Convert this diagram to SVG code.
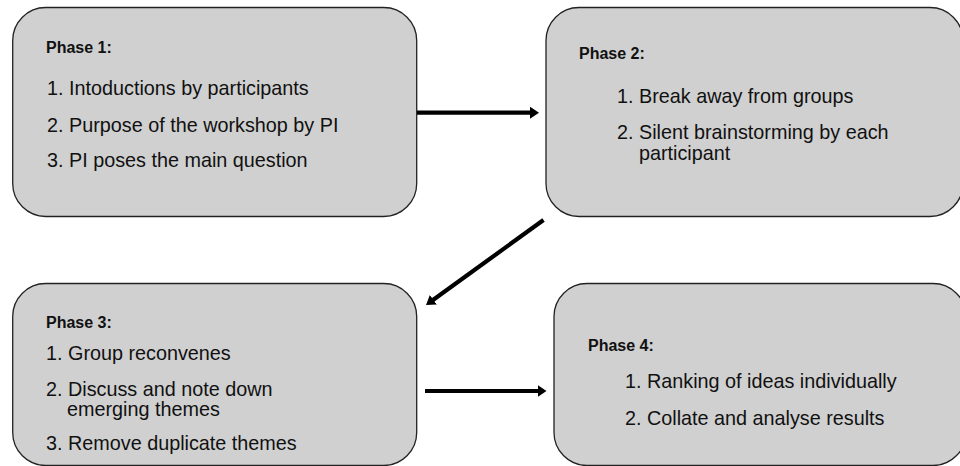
<svg xmlns="http://www.w3.org/2000/svg" width="960" height="466" viewBox="0 0 960 466">
<style>
.box{fill:#d0d0d0;stroke:#222;stroke-width:1.3}
.h{font-family:"Liberation Sans",Arial,sans-serif;font-weight:bold;font-size:16px;fill:#111}
.t{font-family:"Liberation Sans",Arial,sans-serif;font-size:19.8px;fill:#111}
.c{stroke:#000;stroke-width:4.2;fill:none}
</style>
<defs>
<marker id="ah" markerUnits="userSpaceOnUse" markerWidth="12" markerHeight="14" refX="3" refY="6" orient="auto">
<path d="M0,0 L9,6 L0,12 Z" fill="#000"/>
</marker>
</defs>
<rect x="0" y="0" width="960" height="466" fill="#fff"/>
<g id="phase1">
<rect class="box" x="12.7" y="7.5" width="404" height="209" rx="33" ry="33"/>
<text class="h" x="46" y="53">Phase 1:</text>
<text class="t" x="47" y="95">1. Intoductions by participants</text>
<text class="t" x="47" y="131.5">2. Purpose of the workshop by PI</text>
<text class="t" x="47" y="167">3. PI poses the main question</text>
</g>
<g id="phase2">
<rect class="box" x="546" y="7.5" width="417" height="209" rx="33" ry="33"/>
<text class="h" x="579" y="58.5">Phase 2:</text>
<text class="t" x="617" y="103">1. Break away from groups</text>
<text class="t" x="617" y="139">2. Silent brainstorming by each</text>
<text class="t" x="639" y="159.5">participant</text>
</g>
<g id="phase3">
<rect class="box" x="12.7" y="283.5" width="404" height="182" rx="33" ry="33"/>
<text class="h" x="46" y="327.5">Phase 3:</text>
<text class="t" x="46" y="360">1. Group reconvenes</text>
<text class="t" x="46" y="396">2. Discuss and note down</text>
<text class="t" x="67" y="416">emerging themes</text>
<text class="t" x="46" y="450">3. Remove duplicate themes</text>
</g>
<g id="phase4">
<rect class="box" x="554" y="283.5" width="412" height="182" rx="33" ry="33"/>
<text class="h" x="588" y="350.5">Phase 4:</text>
<text class="t" x="625" y="388">1. Ranking of ideas individually</text>
<text class="t" x="625" y="424.5">2. Collate and analyse results</text>
</g>
<g id="connectors">
<line class="c" x1="417" y1="112.7" x2="533" y2="112.7" marker-end="url(#ah)"/>
<line class="c" x1="543.5" y1="220" x2="430.9" y2="301.5" marker-end="url(#ah)"/>
<line class="c" x1="425" y1="391" x2="540.5" y2="391" marker-end="url(#ah)"/>
</g>
</svg>
